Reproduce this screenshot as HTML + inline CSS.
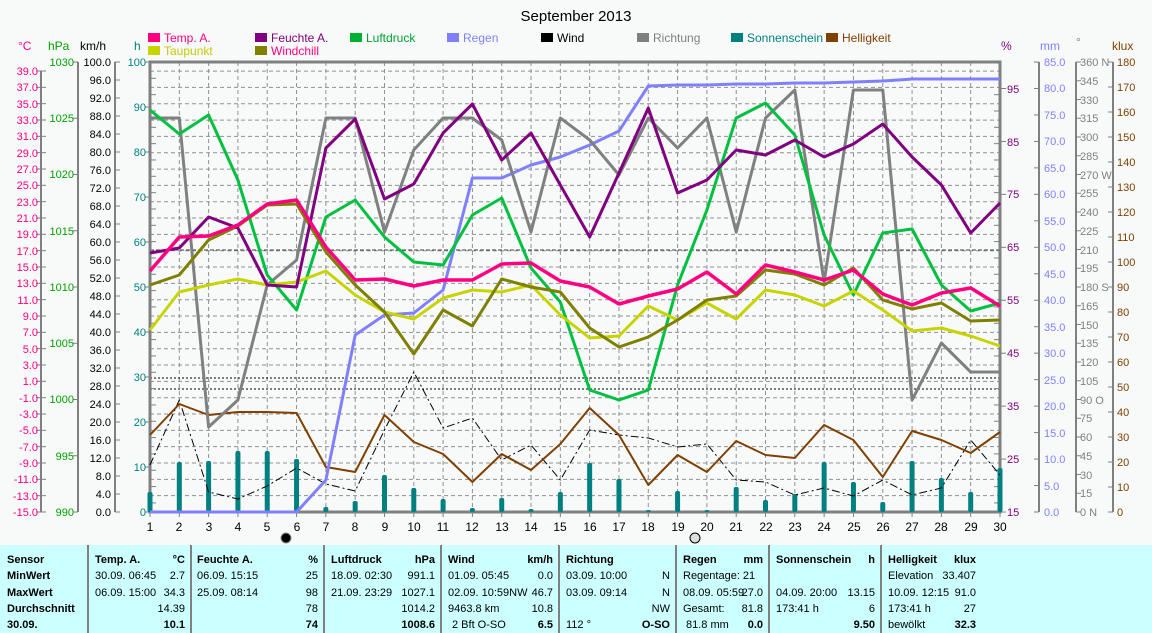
<!DOCTYPE html>
<html><head><meta charset="utf-8"><style>
body{margin:0;background:#f8fafa;}
svg{display:block;font-family:"Liberation Sans",Arial,sans-serif;}
.tb{font-weight:bold}
</style></head><body>
<svg id="s" width="1152" height="633" xmlns="http://www.w3.org/2000/svg">
<rect width="1152" height="633" fill="#f8fafa"/>
<g id="grid"></g>
<g id="series"></g>
<text x="576" y="21" text-anchor="middle" font-size="15" fill="#000">September 2013</text>
<g font-size="12">
<rect x="148" y="33" width="12" height="9" fill="#ff0080"/><text x="164" y="42" fill="#ff0080">Temp. A.</text>
<rect x="255" y="33" width="12" height="9" fill="#800080"/><text x="271" y="42" fill="#800080">Feuchte A.</text>
<rect x="350" y="33" width="12" height="9" fill="#00b030"/><text x="366" y="42" fill="#00a030">Luftdruck</text>
<rect x="447" y="33" width="12" height="9" fill="#8080ff"/><text x="463" y="42" fill="#8080ff">Regen</text>
<rect x="541" y="33" width="12" height="9" fill="#000"/><text x="557" y="42" fill="#000">Wind</text>
<rect x="637" y="33" width="12" height="9" fill="#808080"/><text x="653" y="42" fill="#808080">Richtung</text>
<rect x="731" y="33" width="12" height="9" fill="#008080"/><text x="747" y="42" fill="#008080">Sonnenschein</text>
<rect x="826" y="33" width="12" height="9" fill="#804000"/><text x="842" y="42" fill="#804000">Helligkeit</text>
<rect x="148" y="46" width="12" height="9" fill="#c8d400"/><text x="164" y="55" fill="#c8c800">Taupunkt</text>
<rect x="255" y="46" width="12" height="9" fill="#808000"/><text x="271" y="55" fill="#ff0080">Windchill</text>
</g>
<g font-size="12">
<text x="18" y="50" fill="#ff0080">°C</text><text x="48" y="50" fill="#00a000">hPa</text><text x="80" y="50" fill="#000">km/h</text><text x="134" y="50" fill="#008080">h</text>
<text x="1001" y="50" fill="#800080">%</text><text x="1040" y="50" fill="#8080ff">mm</text><text x="1076" y="46" fill="#808080">°</text><text x="1112" y="50" fill="#804000">klux</text>
</g>
<g font-size="11" fill="#ff0080" text-anchor="end">
<text x="38" y="75">39.0</text><text x="38" y="91">37.0</text><text x="38" y="108">35.0</text><text x="38" y="124">33.0</text><text x="38" y="140">31.0</text><text x="38" y="157">29.0</text><text x="38" y="173">27.0</text><text x="38" y="189">25.0</text><text x="38" y="206">23.0</text><text x="38" y="222">21.0</text><text x="38" y="238">19.0</text><text x="38" y="255">17.0</text><text x="38" y="271">15.0</text><text x="38" y="287">13.0</text><text x="38" y="304">11.0</text><text x="38" y="320">9.0</text><text x="38" y="336">7.0</text><text x="38" y="353">5.0</text><text x="38" y="369">3.0</text><text x="38" y="385">1.0</text><text x="38" y="402">-1.0</text><text x="38" y="418">-3.0</text><text x="38" y="434">-5.0</text><text x="38" y="451">-7.0</text><text x="38" y="467">-9.0</text><text x="38" y="483">-11.0</text><text x="38" y="500">-13.0</text><text x="38" y="516">-15.0</text>
</g>
<g font-size="11" fill="#00a000" text-anchor="end">
<text x="74" y="66">1030</text><text x="74" y="122">1025</text><text x="74" y="178">1020</text><text x="74" y="235">1015</text><text x="74" y="291">1010</text><text x="74" y="347">1005</text><text x="74" y="403">1000</text><text x="74" y="460">995</text><text x="74" y="516">990</text>
</g>
<g font-size="11" fill="#000" text-anchor="end">
<text x="111" y="66">100.0</text><text x="111" y="84">96.0</text><text x="111" y="102">92.0</text><text x="111" y="120">88.0</text><text x="111" y="138">84.0</text><text x="111" y="156">80.0</text><text x="111" y="174">76.0</text><text x="111" y="192">72.0</text><text x="111" y="210">68.0</text><text x="111" y="228">64.0</text><text x="111" y="246">60.0</text><text x="111" y="264">56.0</text><text x="111" y="282">52.0</text><text x="111" y="300">48.0</text><text x="111" y="318">44.0</text><text x="111" y="336">40.0</text><text x="111" y="354">36.0</text><text x="111" y="372">32.0</text><text x="111" y="390">28.0</text><text x="111" y="408">24.0</text><text x="111" y="426">20.0</text><text x="111" y="444">16.0</text><text x="111" y="462">12.0</text><text x="111" y="480">8.0</text><text x="111" y="498">4.0</text><text x="111" y="516">0.0</text>
</g>
<g font-size="11" fill="#008080" text-anchor="end">
<text x="146" y="66">100</text><text x="146" y="111">90</text><text x="146" y="156">80</text><text x="146" y="201">70</text><text x="146" y="246">60</text><text x="146" y="291">50</text><text x="146" y="336">40</text><text x="146" y="381">30</text><text x="146" y="426">20</text><text x="146" y="471">10</text><text x="146" y="516">0</text>
</g>
<g font-size="11" fill="#800080">
<text x="1007" y="93">95</text><text x="1007" y="146">85</text><text x="1007" y="198">75</text><text x="1007" y="251">65</text><text x="1007" y="304">55</text><text x="1007" y="357">45</text><text x="1007" y="410">35</text><text x="1007" y="463">25</text><text x="1007" y="516">15</text>
</g>
<g font-size="11" fill="#8080ff">
<text x="1044" y="66">85.0</text><text x="1044" y="92">80.0</text><text x="1044" y="119">75.0</text><text x="1044" y="145">70.0</text><text x="1044" y="172">65.0</text><text x="1044" y="198">60.0</text><text x="1044" y="225">55.0</text><text x="1044" y="251">50.0</text><text x="1044" y="278">45.0</text><text x="1044" y="304">40.0</text><text x="1044" y="331">35.0</text><text x="1044" y="357">30.0</text><text x="1044" y="384">25.0</text><text x="1044" y="410">20.0</text><text x="1044" y="437">15.0</text><text x="1044" y="463">10.0</text><text x="1044" y="490">5.0</text><text x="1044" y="516">0.0</text>
</g>
<g font-size="11" fill="#808080">
<text x="1080" y="66">360 N</text><text x="1080" y="85">345</text><text x="1080" y="104">330</text><text x="1080" y="122">315</text><text x="1080" y="141">300</text><text x="1080" y="160">285</text><text x="1080" y="179">270 W</text><text x="1080" y="197">255</text><text x="1080" y="216">240</text><text x="1080" y="235">225</text><text x="1080" y="254">210</text><text x="1080" y="272">195</text><text x="1080" y="291">180 S</text><text x="1080" y="310">165</text><text x="1080" y="329">150</text><text x="1080" y="347">135</text><text x="1080" y="366">120</text><text x="1080" y="385">105</text><text x="1080" y="404">90 O</text><text x="1080" y="422">75</text><text x="1080" y="441">60</text><text x="1080" y="460">45</text><text x="1080" y="479">30</text><text x="1080" y="497">15</text><text x="1080" y="516">0 N</text>
</g>
<g font-size="11" fill="#804000">
<text x="1117" y="66">180</text><text x="1117" y="91">170</text><text x="1117" y="116">160</text><text x="1117" y="141">150</text><text x="1117" y="166">140</text><text x="1117" y="191">130</text><text x="1117" y="216">120</text><text x="1117" y="241">110</text><text x="1117" y="266">100</text><text x="1117" y="291">90</text><text x="1117" y="316">80</text><text x="1117" y="341">70</text><text x="1117" y="366">60</text><text x="1117" y="391">50</text><text x="1117" y="416">40</text><text x="1117" y="441">30</text><text x="1117" y="466">20</text><text x="1117" y="491">10</text><text x="1117" y="516">0</text>
</g>
<g font-size="12" text-anchor="middle" fill="#000">
<text x="150" y="531">1</text><text x="179" y="531">2</text><text x="209" y="531">3</text><text x="238" y="531">4</text><text x="267" y="531">5</text><text x="297" y="531">6</text><text x="326" y="531">7</text><text x="355" y="531">8</text><text x="385" y="531">9</text><text x="414" y="531">10</text><text x="443" y="531">11</text><text x="472" y="531">12</text><text x="502" y="531">13</text><text x="531" y="531">14</text><text x="560" y="531">15</text><text x="590" y="531">16</text><text x="619" y="531">17</text><text x="648" y="531">18</text><text x="678" y="531">19</text><text x="707" y="531">20</text><text x="736" y="531">21</text><text x="766" y="531">22</text><text x="795" y="531">23</text><text x="824" y="531">24</text><text x="854" y="531">25</text><text x="883" y="531">26</text><text x="912" y="531">27</text><text x="941" y="531">28</text><text x="971" y="531">29</text><text x="1000" y="531">30</text>
</g>
<circle cx="286" cy="538" r="5" fill="#000" stroke="#888"/>
<circle cx="695" cy="538" r="5" fill="#ddd" stroke="#000"/>
<rect x="0" y="545" width="1152" height="88" fill="#ccffff"/>
<g stroke="#808080" stroke-width="2">
<line x1="88" y1="545" x2="88" y2="633"/><line x1="191" y1="545" x2="191" y2="633"/><line x1="324" y1="545" x2="324" y2="633"/><line x1="441" y1="545" x2="441" y2="633"/><line x1="559" y1="545" x2="559" y2="633"/><line x1="676" y1="545" x2="676" y2="633"/><line x1="769" y1="545" x2="769" y2="633"/><line x1="881" y1="545" x2="881" y2="633"/>
</g>
<g font-size="11" fill="#000">
<text class="tb" x="7" y="563">Sensor</text><text class="tb" x="7" y="579">MinWert</text><text class="tb" x="7" y="596">MaxWert</text><text class="tb" x="7" y="612">Durchschnitt</text><text class="tb" x="7" y="628">30.09.</text>
<text class="tb" x="95" y="563">Temp. A.</text><text class="tb" x="185" y="563" text-anchor="end">°C</text>
<text x="95" y="579">30.09.  06:45</text><text x="185" y="579" text-anchor="end">2.7</text>
<text x="95" y="596">06.09.  15:00</text><text x="185" y="596" text-anchor="end">34.3</text>
<text x="185" y="612" text-anchor="end">14.39</text><text class="tb" x="185" y="628" text-anchor="end">10.1</text>
<text class="tb" x="197" y="563">Feuchte A.</text><text class="tb" x="318" y="563" text-anchor="end">%</text>
<text x="197" y="579">06.09.  15:15</text><text x="318" y="579" text-anchor="end">25</text>
<text x="197" y="596">25.09.  08:14</text><text x="318" y="596" text-anchor="end">98</text>
<text x="318" y="612" text-anchor="end">78</text><text class="tb" x="318" y="628" text-anchor="end">74</text>
<text class="tb" x="331" y="563">Luftdruck</text><text class="tb" x="435" y="563" text-anchor="end">hPa</text>
<text x="331" y="579">18.09.  02:30</text><text x="435" y="579" text-anchor="end">991.1</text>
<text x="331" y="596">21.09.  23:29</text><text x="435" y="596" text-anchor="end">1027.1</text>
<text x="435" y="612" text-anchor="end">1014.2</text><text class="tb" x="435" y="628" text-anchor="end">1008.6</text>
<text class="tb" x="448" y="563">Wind</text><text class="tb" x="553" y="563" text-anchor="end">km/h</text>
<text x="448" y="579">01.09.  05:45</text><text x="553" y="579" text-anchor="end">0.0</text>
<text x="448" y="596">02.09.  10:59NW</text><text x="553" y="596" text-anchor="end">46.7</text>
<text x="448" y="612">9463.8 km</text><text x="553" y="612" text-anchor="end">10.8</text>
<text x="452" y="628">2 Bft O-SO</text><text class="tb" x="553" y="628" text-anchor="end">6.5</text>
<text class="tb" x="566" y="563">Richtung</text>
<text x="566" y="579">03.09.  10:00</text><text x="670" y="579" text-anchor="end">N</text>
<text x="566" y="596">03.09.  09:14</text><text x="670" y="596" text-anchor="end">N</text>
<text x="670" y="612" text-anchor="end">NW</text>
<text x="566" y="628">112 °</text><text class="tb" x="670" y="628" text-anchor="end">O-SO</text>
<text class="tb" x="683" y="563">Regen</text><text class="tb" x="763" y="563" text-anchor="end">mm</text>
<text x="683" y="579">Regentage: 21</text>
<text x="683" y="596">08.09.  05:59</text><text x="763" y="596" text-anchor="end">27.0</text>
<text x="683" y="612">Gesamt:</text><text x="763" y="612" text-anchor="end">81.8</text>
<text x="686" y="628">81.8 mm</text><text class="tb" x="763" y="628" text-anchor="end">0.0</text>
<text class="tb" x="776" y="563">Sonnenschein</text><text class="tb" x="875" y="563" text-anchor="end">h</text>
<text x="776" y="596">04.09.  20:00</text><text x="875" y="596" text-anchor="end">13.15</text>
<text x="776" y="612">173:41 h</text><text x="875" y="612" text-anchor="end">6</text>
<text class="tb" x="875" y="628" text-anchor="end">9.50</text>
<text class="tb" x="888" y="563">Helligkeit</text><text class="tb" x="976" y="563" text-anchor="end">klux</text>
<text x="888" y="579">Elevation</text><text x="976" y="579" text-anchor="end">33.407</text>
<text x="888" y="596">10.09.  12:15</text><text x="976" y="596" text-anchor="end">91.0</text>
<text x="888" y="612">173:41 h</text><text x="976" y="612" text-anchor="end">27</text>
<text x="888" y="628">bewölkt</text><text class="tb" x="976" y="628" text-anchor="end">32.3</text>
</g>
</svg>
<script>
var NS="http://www.w3.org/2000/svg";
function el(p,n,a){var e=document.createElementNS(NS,n);for(var k in a)e.setAttribute(k,a[k]);p.appendChild(e);return e;}
var G=document.getElementById('grid'),S=document.getElementById('series');
function X(d){return 150+(d-1)*850/29;}
for(var y=512-16.33;y>63;y-=16.33)el(G,'line',{x1:150,x2:1000,y1:y,y2:y,stroke:'#909090','stroke-dasharray':'4,3'});
for(var d=2;d<30;d++)el(G,'line',{x1:X(d),x2:X(d),y1:62,y2:512,stroke:'#909090','stroke-dasharray':'4,3'});
[378,389].forEach(function(y){el(G,'line',{x1:150,x2:1000,y1:y,y2:y,stroke:'#000','stroke-dasharray':'2,2'});});
el(G,'line',{x1:150,x2:1000,y1:250,y2:250,stroke:'#404040','stroke-dasharray':'4,2'});
el(G,'rect',{x:150,y:62,width:850,height:450,fill:'none',stroke:'#808080','stroke-width':3});
function axis(x,y0,y1,step,dir){el(G,'line',{x1:x,x2:x,y1:y0,y2:y1,stroke:'#808080','stroke-width':2});for(var y=y0;y<=y1+0.5;y+=step)el(G,'line',{x1:x,x2:x+dir*5,y1:y,y2:y,stroke:'#808080'});}
axis(41,71,512,16.333,-1);axis(41,71,512,16.333,1);
axis(78,62,512,56.25,-1);axis(115,62,512,18,1);
axis(150,62,512,45,-1);
for(var y=62;y<=512;y+=16.33){el(G,'line',{x1:150,x2:156,y1:y,y2:y,stroke:'#808080'});el(G,'line',{x1:994,x2:1000,y1:y,y2:y,stroke:'#808080'});}
for(var y=88.5;y<=512.5;y+=52.94)el(G,'line',{x1:1000,x2:1006,y1:y,y2:y,stroke:'#808080'});
axis(1039,62,512,26.47,-1);axis(1076,62,512,18.75,1);axis(1113,62,512,25,-1);
for(var d=1;d<=30;d++)el(G,'line',{x1:X(d),x2:X(d),y1:512,y2:517,stroke:'#808080'});
var bars=[492,462,461,451,451,459,507,501,475,488,499,508,498,509,492,463,479,510,491,510,487,500,494,462,482,502,461,478,492,468];
bars.forEach(function(v,i){var x=X(i+1);el(S,'rect',{x:x-2.5,y:v,width:5,height:512-v,rx:2,fill:'#008080'});});
function line(arr,col,w,dash){var p=arr.map(function(v,i){return X(i+1).toFixed(1)+','+v;}).join(' ');var a={points:p,fill:'none',stroke:col,'stroke-width':w,'stroke-linejoin':'round'};if(dash)a['stroke-dasharray']=dash;el(S,'polyline',a);}
line([465,400,492,499,486,468,484,491,430,372,428,418,460,445,480,430,435,438,447,444,480,482,495,488,496,480,495,488,440,475],'#000',1,'8,3,2,3');
line([435,404,415,412,412,413,467,472,415,442,454,482,454,470,444,408,435,485,455,472,441,455,458,425,440,477,431,440,453,432],'#804000',2);
line([512,512,512,512,512,512,480,335,315,313,290,178,178,165,157,145,131,86,85,85,84,84,83,83,82,81,79,79,79,79],'#8080ff',3);
line([118,118,427,400,285,260,118,118,232,150,118,118,140,232,118,140,175,118,148,118,232,118,90,282,90,90,400,343,372,372],'#808080',3);
line([110,134,115,180,275,310,217,200,237,262,265,215,198,268,302,390,400,390,285,210,118,103,135,235,295,233,229,285,311,303],'#00c040',3);
line([330,292,285,279,285,282,271,295,312,319,298,290,292,285,315,338,336,306,320,303,319,290,295,306,291,310,331,328,336,346],'#c8d400',3);
line([285,275,240,226,205,204,252,285,312,354,310,326,279,287,292,328,347,337,320,300,296,270,274,285,268,300,309,303,321,320],'#808000',3);
line([253,248,217,228,285,287,148,119,199,184,133,104,160,133,185,237,173,108,193,180,150,155,140,157,144,124,157,185,233,203],'#800080',3);
line([271,237,236,225,204,200,247,280,279,286,280,280,264,263,281,287,304,296,289,272,294,265,272,280,270,294,305,293,288,306],'#ff0080',3.5);
</script>
</body></html>
